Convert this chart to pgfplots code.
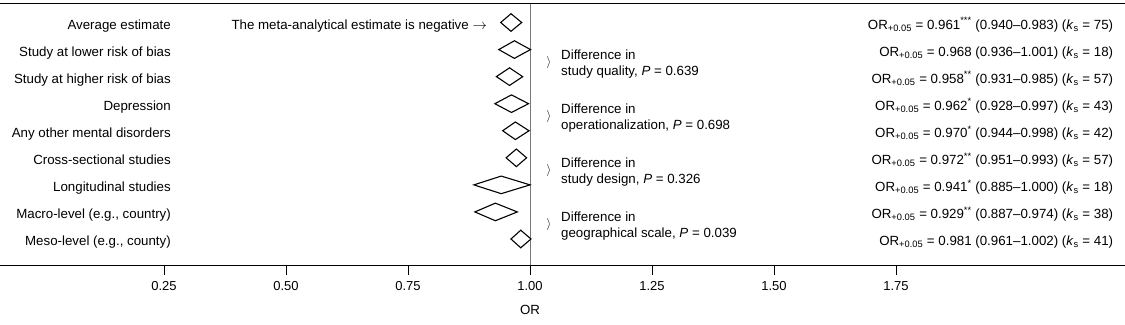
\documentclass[border=0pt]{standalone}
\usepackage{fontspec}
\setmainfont{Liberation Sans}
\usepackage{pgfplots}
\pgfplotsset{compat=1.18}
\definecolor{refgray}{RGB}{120,120,120}
\newcommand{\orl}{OR\textsubscript{+0.05}}
\newcommand{\ks}{(\textit{k}\textsubscript{s}}
\begin{document}
\fontsize{13.3bp}{16bp}\selectfont
\begin{tikzpicture}
\begin{axis}[
  name=ax,
  width=1125bp, height=261bp, scale only axis,
  xmin=-0.08607, xmax=2.21926,
  ymin=0.039, ymax=9.684,
  axis x line=box, axis y line=none,
  xtick pos=bottom,
  tick align=outside, major tick length=10bp,
  xtick={0.25,0.5,0.75,1,1.25,1.5,1.75},
  ytick=\empty,
  x tick label style={/pgf/number format/.cd, fixed, fixed zerofill, precision=2, assume math mode=true},
  tick label style={font=\fontsize{13bp}{15bp}\selectfont, yshift=-1.5bp},
  xlabel={OR},
  xlabel style={at={(axis description cs:0.4711,-0.1724)}, anchor=center, font=\fontsize{13.3bp}{15bp}\selectfont},
  axis line style={line width=1bp, black},
  every tick/.style={line width=1bp, black},
  clip=false,
]
% reference line at OR = 1
\addplot[refgray, line width=1bp] coordinates {(1,0.039) (1,9.684)};

% diamonds: (lower CI, y) (estimate, y+h) (upper CI, y) (estimate, y-h)
\pgfplotsset{dia/.style={black, line width=1.1bp, line join=miter, mark=none}}
\addplot[dia] coordinates {(0.940,9) (0.961,9.325) (0.983,9) (0.961,8.675) (0.940,9)} -- cycle;
\addplot[dia] coordinates {(0.936,8) (0.968,8.325) (1.001,8) (0.968,7.675) (0.936,8)} -- cycle;
\addplot[dia] coordinates {(0.931,7) (0.958,7.325) (0.985,7) (0.958,6.675) (0.931,7)} -- cycle;
\addplot[dia] coordinates {(0.928,6) (0.962,6.325) (0.997,6) (0.962,5.675) (0.928,6)} -- cycle;
\addplot[dia] coordinates {(0.944,5) (0.970,5.325) (0.998,5) (0.970,4.675) (0.944,5)} -- cycle;
\addplot[dia] coordinates {(0.951,4) (0.972,4.325) (0.993,4) (0.972,3.675) (0.951,4)} -- cycle;
\addplot[dia] coordinates {(0.885,3) (0.941,3.325) (1.000,3) (0.941,2.675) (0.885,3)} -- cycle;
\addplot[dia] coordinates {(0.887,2) (0.929,2.325) (0.974,2) (0.929,1.675) (0.887,2)} -- cycle;
\addplot[dia] coordinates {(0.961,1) (0.981,1.325) (1.002,1) (0.981,0.675) (0.961,1)} -- cycle;

% left labels
\tikzset{lab/.style={anchor=base east, yshift=-6.5bp, inner sep=0pt}}
\node[lab] at (axis cs:0.2643,9) {Average estimate};
\node[lab] at (axis cs:0.2643,8) {Study at lower risk of bias};
\node[lab] at (axis cs:0.2643,7) {Study at higher risk of bias};
\node[lab] at (axis cs:0.2643,6) {Depression};
\node[lab] at (axis cs:0.2643,5) {Any other mental disorders};
\node[lab] at (axis cs:0.2643,4) {Cross-sectional studies};
\node[lab] at (axis cs:0.2643,3) {Longitudinal studies};
\node[lab] at (axis cs:0.2643,2) {Macro-level (e.g., country)};
\node[lab] at (axis cs:0.2643,1) {Meso-level (e.g., county)};

\node[lab] at (axis cs:0.912,9) {The meta-analytical estimate is negative $\rightarrow$};

% right estimates
\node[lab] at (axis cs:2.1953,9) {\orl{} = 0.961\textsuperscript{***} (0.940–0.983) \ks{} = 75)};
\node[lab] at (axis cs:2.1953,8) {\orl{} = 0.968 (0.936–1.001) \ks{} = 18)};
\node[lab] at (axis cs:2.1953,7) {\orl{} = 0.958\textsuperscript{**} (0.931–0.985) \ks{} = 57)};
\node[lab] at (axis cs:2.1953,6) {\orl{} = 0.962\textsuperscript{*} (0.928–0.997) \ks{} = 43)};
\node[lab] at (axis cs:2.1953,5) {\orl{} = 0.970\textsuperscript{*} (0.944–0.998) \ks{} = 42)};
\node[lab] at (axis cs:2.1953,4) {\orl{} = 0.972\textsuperscript{**} (0.951–0.993) \ks{} = 57)};
\node[lab] at (axis cs:2.1953,3) {\orl{} = 0.941\textsuperscript{*} (0.885–1.000) \ks{} = 18)};
\node[lab] at (axis cs:2.1953,2) {\orl{} = 0.929\textsuperscript{**} (0.887–0.974) \ks{} = 38)};
\node[lab] at (axis cs:2.1953,1) {\orl{} = 0.981 (0.961–1.002) \ks{} = 41)};

% group comparisons
\tikzset{g1/.style={anchor=base west, yshift=3.5bp, inner sep=0pt},
         g2/.style={anchor=base west, yshift=-12bp, inner sep=0pt},
         br/.style={anchor=center, yshift=0.6bp, inner sep=0pt, font=\fontsize{12bp}{14bp}\selectfont}}
\node[br] at (axis cs:1.039,7.5) {$\rangle$};
\node[g1] at (axis cs:1.0635,7.5) {Difference in};
\node[g2] at (axis cs:1.0635,7.5) {study quality, \textit{P} = 0.639};
\node[br] at (axis cs:1.039,5.5) {$\rangle$};
\node[g1] at (axis cs:1.0635,5.5) {Difference in};
\node[g2] at (axis cs:1.0635,5.5) {operationalization, \textit{P} = 0.698};
\node[br] at (axis cs:1.039,3.5) {$\rangle$};
\node[g1] at (axis cs:1.0635,3.5) {Difference in};
\node[g2] at (axis cs:1.0635,3.5) {study design, \textit{P} = 0.326};
\node[br] at (axis cs:1.039,1.5) {$\rangle$};
\node[g1] at (axis cs:1.0635,1.5) {Difference in};
\node[g2] at (axis cs:1.0635,1.5) {geographical scale, \textit{P} = 0.039};
\end{axis}
\pgfresetboundingbox
\path[use as bounding box] ([yshift=-59bp]ax.south west) rectangle ([yshift=4bp]ax.north east);
\end{tikzpicture}
\end{document}
